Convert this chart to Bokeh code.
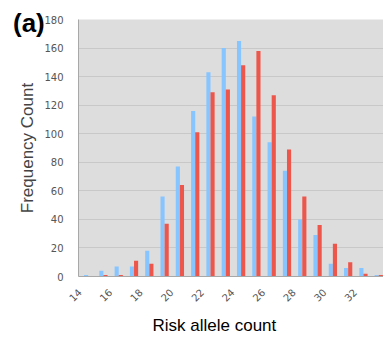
from bokeh.plotting import figure
from bokeh.models import ColumnDataSource, Range1d, FixedTicker, Title, Div
from bokeh.layouts import column
from bokeh.transform import dodge
from bokeh.embed import file_html
from bokeh.resources import INLINE

categories = list(range(14, 34))
blue_counts = [1, 4, 7, 7, 18, 56, 77, 116, 143, 160, 165, 112, 94, 74, 40, 29, 9, 6, 6, 1]
red_counts = [0, 1, 1, 11, 9, 37, 64, 101, 129, 131, 148, 158, 127, 89, 56, 36, 23, 10, 2, 1]
tick_labels = [14, 16, 18, 20, 22, 24, 26, 28, 30, 32]
y_ticks = [0, 20, 40, 60, 80, 100, 120, 140, 160, 180]

src = ColumnDataSource(dict(cat=categories, blue=blue_counts, red=red_counts))

p = figure(width=383, height=339, output_backend="svg", toolbar_location=None,
           x_range=Range1d(13.37, 33.31), y_range=Range1d(0, 180),
           min_border_left=78, min_border_right=0, min_border_top=19, min_border_bottom=63)
p.background_fill_color = "#DDDDDD"
p.border_fill_color = "white"
p.outline_line_color = None

bw = 0.27
p.vbar(x=dodge("cat", -bw / 2, range=p.x_range), top="blue", width=bw, bottom=0,
       source=src, fill_color="#86C5FF", line_color=None)
p.vbar(x=dodge("cat", bw / 2, range=p.x_range), top="red", width=bw, bottom=0,
       source=src, fill_color="#EC564B", line_color=None)

p.xgrid.visible = False
p.ygrid.grid_line_color = "#C8C8C8"
p.ygrid.grid_line_width = 1
p.yaxis.ticker = FixedTicker(ticks=y_ticks)

tick_pos = [c - 0.56 for c in tick_labels]
p.xaxis.ticker = FixedTicker(ticks=tick_pos)
p.xaxis.major_label_overrides = {t: str(c) for t, c in zip(tick_pos, tick_labels)}
p.xaxis.major_label_orientation = 0.785
p.xaxis.major_tick_line_color = None
p.xaxis.minor_tick_line_color = None
p.xaxis.axis_line_color = "#A8A8A8"
p.xaxis.major_label_text_font = "DejaVu Sans"
p.xaxis.major_label_text_font_size = "10px"
p.xaxis.major_label_text_color = "#555555"
p.xaxis.major_label_standoff = 8

p.yaxis.major_tick_line_color = None
p.yaxis.minor_tick_line_color = None
p.yaxis.axis_line_color = "#A8A8A8"
p.yaxis.major_label_text_font = "DejaVu Sans"
p.yaxis.major_label_text_font_size = "10px"
p.yaxis.major_label_text_color = "#555555"
p.yaxis.major_label_standoff = 9
p.yaxis.axis_label = "Frequency Count"
p.yaxis.axis_label_text_font = "Liberation Sans"
p.yaxis.axis_label_text_font_style = "normal"
p.yaxis.axis_label_text_font_size = "17px"
p.yaxis.axis_label_standoff = 4

p.add_layout(Title(text="Risk allele count", align="left", offset=74,
                   text_font="Liberation Sans", text_font_style="normal",
                   text_font_size="17px", text_color="black"), "below")

tag = Div(text="(a)", styles={"position": "absolute", "left": "8px", "top": "5px",
                              "font-family": "Liberation Sans", "font-weight": "bold",
                              "font-size": "26px", "line-height": "1", "color": "black",
                              "z-index": "10"})

layout = column(p, tag)
open("out.html", "w").write(file_html(layout, INLINE))
